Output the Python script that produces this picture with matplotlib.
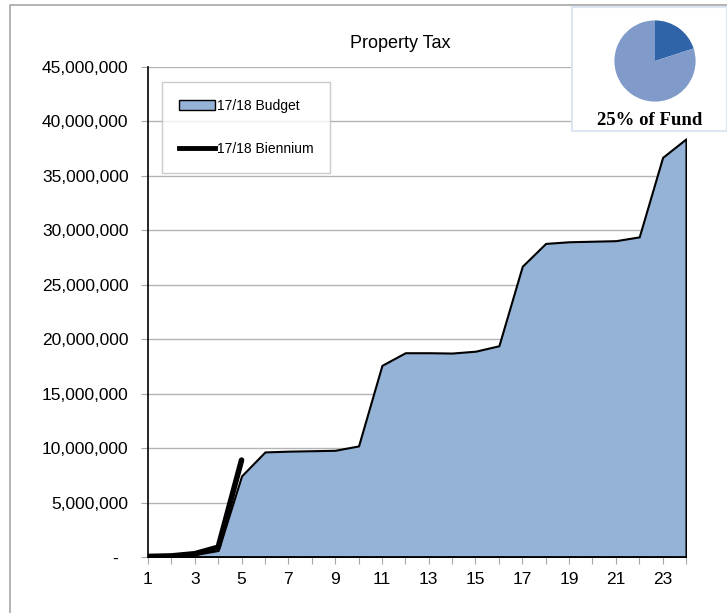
import matplotlib
matplotlib.use("Agg")
import matplotlib.pyplot as plt
from matplotlib.patches import Patch, Rectangle
from matplotlib.lines import Line2D
from matplotlib.ticker import FuncFormatter, MultipleLocator

plt.rcParams['font.family'] = ['Liberation Sans', 'DejaVu Sans']

# Data
periods = list(range(1, 25))
budget = [0.08e6, 0.1e6, 0.22e6, 0.6e6, 7.45e6, 9.65e6, 9.72e6, 9.76e6, 9.8e6, 10.2e6,
          17.6e6, 18.76e6, 18.76e6, 18.73e6, 18.9e6, 19.4e6, 26.7e6, 28.8e6, 28.95e6,
          29.0e6, 29.05e6, 29.4e6, 36.7e6, 38.4e6]
biennium_periods = [1, 2, 3, 4, 5]
biennium = [0.05e6, 0.1e6, 0.3e6, 0.9e6, 8.9e6]
pie_values = [20, 80]
title = "Property Tax"
pie_label = "25% of Fund"
series_names = ["17/18 Budget", "17/18 Biennium"]

W, H = 727, 613
fig = plt.figure(figsize=(W / 100, H / 100), dpi=100)

def fx(px):
    return px / W

def fy(py):
    return 1 - py / H

# outer frame (partial)
frame = Line2D([fx(10), fx(10), fx(727)], [fy(613), fy(5), fy(5)],
               transform=fig.transFigure, color='#a6a6a6', lw=1.2)
fig.add_artist(frame)

ax = fig.add_axes([fx(148), fy(557), fx(686) - fx(148), fy(67) - fy(557)])
fill_color = '#95b3d7'
ax.fill_between(periods, budget, 0, facecolor=fill_color, edgecolor='black', lw=1.5, zorder=2)
ax.plot(biennium_periods, biennium, color='black', lw=4, solid_capstyle='round', zorder=3)

ax.set_xlim(1, 24)
ax.set_ylim(0, 45e6)
ax.yaxis.set_major_locator(MultipleLocator(5e6))
ax.grid(axis='y', color='#b3b3b3', lw=1, zorder=0)
ax.set_axisbelow(True)

ax.set_xticks(periods)
ax.set_xticklabels([str(p) if p % 2 == 1 else '' for p in periods])
ax.yaxis.set_major_formatter(FuncFormatter(lambda v, pos: '-  ' if v == 0 else f"{int(v):,}"))

for side in ['top', 'right']:
    ax.spines[side].set_visible(False)
ax.spines['left'].set_color('black')
ax.spines['left'].set_linewidth(1.2)
ax.spines['bottom'].set_color('black')
ax.spines['bottom'].set_linewidth(1.2)

ax.tick_params(axis='y', direction='out', length=5, color='#a6a6a6', labelsize=12.5, pad=9)
ax.tick_params(axis='x', direction='out', length=5, color='#a6a6a6', labelsize=12.5, pad=6)

fig.text(fx(400), fy(44), title, ha='center', va='center', fontsize=13)

handles = [Patch(facecolor=fill_color, edgecolor='black', lw=1),
           Line2D([0], [0], color='black', lw=3.5)]
leg = ax.legend(handles, series_names, loc='upper left',
                bbox_to_anchor=(fx(162), fy(82)), bbox_transform=fig.transFigure,
                fontsize=10, frameon=True, fancybox=False, edgecolor='#bfbfbf',
                borderpad=1.2, labelspacing=2.1, handlelength=2.6, handletextpad=0.15,
                borderaxespad=0)
leg.get_frame().set_linewidth(1)

# pie inset box
box = Rectangle((fx(572), fy(131)), fx(727) - fx(572), fy(7) - fy(131),
                transform=fig.transFigure, facecolor='white', edgecolor='#dce6f2', lw=1.5, zorder=5)
fig.add_artist(box)
pax = fig.add_axes([fx(614), fy(102), fx(82), fy(20) - fy(102)], zorder=6)
pax.pie(pie_values, colors=['#2f64a8', '#809bca'], startangle=90, counterclock=False,
        wedgeprops=dict(edgecolor='none'))
pax.set_xlim(-1.01, 1.01)
pax.set_ylim(-1.01, 1.01)
pax.set_aspect('auto')
pax.axis('off')
fig.text(fx(650), fy(120), pie_label, ha='center', va='center', fontsize=13.5,
         fontweight='bold', family=['Liberation Serif', 'DejaVu Serif'], zorder=7)

fig.savefig('out.png', dpi=100)
